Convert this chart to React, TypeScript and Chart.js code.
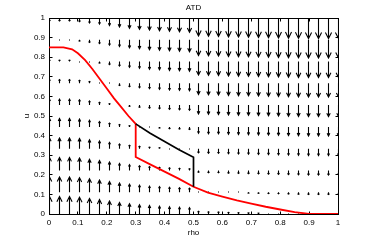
import { useEffect, useRef } from "react";
import { Chart, registerables } from "chart.js";

Chart.register(...registerables);

// Quiver grid (rho columns, u rows)
const rhoGrid = [
  0, 0.0345, 0.069, 0.1034, 0.1379, 0.1724, 0.2069, 0.2414, 0.2759, 0.3103,
  0.3448, 0.3793, 0.4138, 0.4483, 0.4828, 0.5172, 0.5517, 0.5862, 0.6207, 0.6552,
  0.6897, 0.7241, 0.7586, 0.7931, 0.8276, 0.8621, 0.8966, 0.931, 0.9655, 1,
];
const uGrid = [0, 0.1111, 0.2222, 0.3333, 0.4444, 0.5556, 0.6667, 0.7778, 0.8889, 1];

// Vertical field component at each grid node, one array per u row
const fieldRow0 = [0.85,0.85,0.85,0.82,0.76,0.70,0.63,0.56,0.50,0.45,0.41,0.38,0.35,0.33,0.31,0.13,0.11,0.10,0.08,0.07,0.06,0.05,0.04,0.03,0.02,0.01,0,0,0,0];
const fieldRow1 = [0.74,0.74,0.74,0.71,0.65,0.59,0.52,0.45,0.39,0.34,0.30,0.27,0.24,0.22,0.20,0.02,0,-0.01,-0.03,-0.04,-0.05,-0.06,-0.07,-0.08,-0.09,-0.10,-0.11,-0.11,-0.11,-0.11];
const fieldRow2 = [0.63,0.63,0.63,0.60,0.54,0.48,0.41,0.34,0.28,0.23,0.19,0.16,0.13,0.11,0.09,-0.09,-0.11,-0.12,-0.14,-0.15,-0.16,-0.17,-0.18,-0.19,-0.20,-0.21,-0.22,-0.22,-0.22,-0.22];
const fieldRow3 = [0.52,0.52,0.52,0.49,0.43,0.37,0.30,0.23,0.17,0.12,0.08,0.05,0.02,0,-0.02,-0.20,-0.22,-0.23,-0.25,-0.26,-0.27,-0.28,-0.29,-0.30,-0.31,-0.32,-0.33,-0.33,-0.33,-0.33];
const fieldRow4 = [0.41,0.41,0.41,0.38,0.32,0.26,0.19,0.12,0.06,0.01,-0.03,-0.06,-0.09,-0.11,-0.13,-0.31,-0.33,-0.34,-0.36,-0.37,-0.38,-0.39,-0.40,-0.41,-0.42,-0.43,-0.44,-0.44,-0.44,-0.44];
const fieldRow5 = [0.29,0.29,0.29,0.26,0.20,0.14,0.07,0,-0.06,-0.11,-0.15,-0.18,-0.21,-0.23,-0.25,-0.43,-0.45,-0.46,-0.48,-0.49,-0.50,-0.51,-0.52,-0.53,-0.54,-0.55,-0.56,-0.56,-0.56,-0.56];
const fieldRow6 = [0.18,0.18,0.18,0.15,0.09,0.03,-0.04,-0.11,-0.17,-0.22,-0.26,-0.29,-0.32,-0.34,-0.36,-0.54,-0.56,-0.57,-0.59,-0.60,-0.61,-0.62,-0.63,-0.64,-0.65,-0.66,-0.67,-0.67,-0.67,-0.67];
const fieldRow7 = [0.07,0.07,0.07,0.04,-0.02,-0.08,-0.15,-0.22,-0.28,-0.33,-0.37,-0.40,-0.43,-0.45,-0.47,-0.65,-0.67,-0.68,-0.70,-0.71,-0.72,-0.73,-0.74,-0.75,-0.76,-0.77,-0.78,-0.78,-0.78,-0.78];
const fieldRow8 = [-0.04,-0.04,-0.04,-0.07,-0.13,-0.19,-0.26,-0.33,-0.39,-0.44,-0.48,-0.51,-0.54,-0.56,-0.58,-0.76,-0.78,-0.79,-0.81,-0.82,-0.83,-0.84,-0.85,-0.86,-0.87,-0.88,-0.89,-0.89,-0.89,-0.89];
const fieldRow9 = [-0.15,-0.15,-0.15,-0.18,-0.24,-0.30,-0.37,-0.44,-0.50,-0.55,-0.59,-0.62,-0.65,-0.67,-0.69,-0.87,-0.89,-0.90,-0.92,-0.93,-0.94,-0.95,-0.96,-0.97,-0.98,-0.99,-1,-1,-1,-1];
const fieldRows = [fieldRow0, fieldRow1, fieldRow2, fieldRow3, fieldRow4, fieldRow5, fieldRow6, fieldRow7, fieldRow8, fieldRow9];

// Red curve
const redRho = [0, 0.05, 0.08, 0.1, 0.125, 0.15, 0.175, 0.2, 0.225, 0.25, 0.275, 0.3, 0.3, 0.35, 0.4, 0.45, 0.5, 0.55, 0.6, 0.65, 0.7, 0.75, 0.8, 0.85, 0.9, 1];
const redU = [0.85, 0.85, 0.84, 0.82, 0.785, 0.74, 0.69, 0.64, 0.59, 0.545, 0.5, 0.46, 0.291, 0.253, 0.216, 0.179, 0.139, 0.109, 0.089, 0.07, 0.053, 0.037, 0.023, 0.01, 0, 0];

// Black curve
const blackRho = [0.3, 0.35, 0.4, 0.45, 0.5, 0.5];
const blackU = [0.46, 0.412, 0.37, 0.328, 0.29, 0.139];

const xTicks = [0, 0.1, 0.2, 0.3, 0.4, 0.5, 0.6, 0.7, 0.8, 0.9, 1];
const yTicks = [0, 0.1, 0.2, 0.3, 0.4, 0.5, 0.6, 0.7, 0.8, 0.9, 1];

const ARROW_SCALE = 0.105;
const FONT = { family: "'Liberation Sans', Arial, Helvetica, sans-serif", size: 8, weight: "normal" as const };

const framePlugin = {
  id: "frameQuiver",
  beforeDatasetsDraw(chart: any) {
    const { ctx, chartArea } = chart;
    const xs = chart.scales.x;
    const ys = chart.scales.y;
    const L = Math.floor(chartArea.left) + 0.5;
    const R = Math.floor(chartArea.right) + 0.5;
    const T = Math.floor(chartArea.top) + 0.5;
    const B = Math.floor(chartArea.bottom) + 0.5;
    ctx.save();
    ctx.strokeStyle = "#000";
    ctx.lineWidth = 1;
    ctx.strokeRect(L, T, R - L, B - T);
    ctx.beginPath();
    for (const v of xTicks) {
      const px = Math.floor(xs.getPixelForValue(v)) + 0.5;
      ctx.moveTo(px, B); ctx.lineTo(px, B - 3);
      ctx.moveTo(px, T); ctx.lineTo(px, T + 3);
    }
    for (const v of yTicks) {
      const py = Math.floor(ys.getPixelForValue(v)) + 0.5;
      ctx.moveTo(L, py); ctx.lineTo(L + 3, py);
      ctx.moveTo(R, py); ctx.lineTo(R - 3, py);
    }
    ctx.stroke();

    // quiver arrows
    ctx.beginPath();
    ctx.rect(chartArea.left, chartArea.top, chartArea.right - chartArea.left, chartArea.bottom - chartArea.top);
    ctx.clip();
    ctx.fillStyle = "#000";
    ctx.lineWidth = 1.1;
    ctx.beginPath();
    uGrid.forEach((u, j) => {
      rhoGrid.forEach((rho, k) => {
        const x0 = Math.round(xs.getPixelForValue(rho)) + 0.5;
        const y0 = ys.getPixelForValue(u);
        const y1 = ys.getPixelForValue(u + ARROW_SCALE * fieldRows[j][k]);
        const len = y1 - y0;
        if (Math.abs(len) < 1) {
          ctx.fillRect(x0 - 0.5, Math.round(y0) - 0.5, 1, 1);
          return;
        }
        const hl = 0.3 * len;
        const hw = Math.max(1, 0.15 * Math.abs(len));
        ctx.moveTo(x0, y0);
        ctx.lineTo(x0, y1);
        ctx.moveTo(x0 - hw, y1 - hl);
        ctx.lineTo(x0, y1);
        ctx.lineTo(x0 + hw, y1 - hl);
      });
    });
    ctx.stroke();
    ctx.restore();
  },
};

export default function App() {
  const ref = useRef<HTMLCanvasElement | null>(null);
  useEffect(() => {
    document.body.style.margin = "0";
    const canvas = ref.current;
    if (!canvas) return;
    const chart = new Chart(canvas, {
      type: "scatter",
      data: {
        datasets: [
          {
            data: blackRho.map((r, i) => ({ x: r, y: blackU[i] })),
            showLine: true,
            borderColor: "#000",
            borderWidth: 1.7,
            pointRadius: 0,
            tension: 0,
          },
          {
            data: redRho.map((r, i) => ({ x: r, y: redU[i] })),
            showLine: true,
            borderColor: "#ff0000",
            borderWidth: 1.8,
            pointRadius: 0,
            tension: 0,
          },
        ],
      },
      options: {
        animation: false,
        responsive: false,
        events: [],
        layout: { padding: { left: 0, right: 36, top: 0, bottom: 0 } },
        plugins: {
          legend: { display: false },
          tooltip: { enabled: false },
          title: { display: false },
        },
        scales: {
          x: {
            type: "linear",
            min: 0,
            max: 1,
            grid: { display: false, drawTicks: false },
            border: { display: false },
            ticks: {
              stepSize: 0.1,
              padding: 4,
              color: "#000",
              font: FONT,
              maxRotation: 0,
              autoSkip: false,
              callback: (v: any) => String(Math.round(Number(v) * 10) / 10),
            },
            title: { display: true, text: "rho", color: "#000", font: FONT, padding: { top: 0, bottom: 4 } },
            afterFit: (s: any) => { s.height = 28; },
          },
          x2: {
            type: "linear",
            position: "top",
            min: 0,
            max: 1,
            grid: { display: false, drawTicks: false },
            border: { display: false },
            ticks: { display: false },
            title: { display: true, text: "ATD", color: "#000", font: FONT, padding: { top: 3, bottom: 0 } },
            afterFit: (s: any) => { s.height = 18; },
          },
          y: {
            type: "linear",
            min: 0,
            max: 1,
            grid: { display: false, drawTicks: false },
            border: { display: false },
            ticks: {
              stepSize: 0.1,
              padding: 4,
              color: "#000",
              font: FONT,
              autoSkip: false,
              callback: (v: any) => String(Math.round(Number(v) * 10) / 10),
            },
            title: { display: true, text: "u", color: "#000", font: FONT, padding: { top: 22, bottom: 0 } },
            afterFit: (s: any) => { s.width = 49; },
          },
        },
      } as any,
      plugins: [framePlugin],
    });
    return () => chart.destroy();
  }, []);
  return (
    <div style={{ width: 374, height: 242, background: "#fff" }}>
      <canvas ref={ref} width={374} height={242} style={{ display: "block" }} />
    </div>
  );
}
